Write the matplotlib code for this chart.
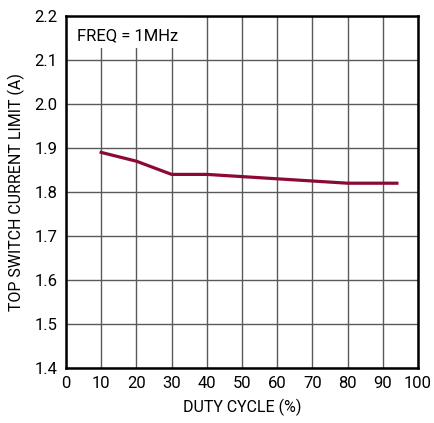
import matplotlib
matplotlib.use("Agg")
import matplotlib.pyplot as plt
from matplotlib.patches import Rectangle

plt.rcParams['font.family'] = ['Roboto', 'DejaVu Sans']

duty = [10, 20, 30, 40, 50, 60, 70, 80, 94]
limit = [1.89, 1.87, 1.84, 1.84, 1.835, 1.83, 1.825, 1.82, 1.82]

xticks = list(range(0, 101, 10))
yticks = [1.4, 1.5, 1.6, 1.7, 1.8, 1.9, 2.0, 2.1, 2.2]

fig = plt.figure(figsize=(4.35, 4.23), dpi=100)
ax = fig.add_axes([66/435, 1-368/423, (418-66)/435, (368-16)/423])

ax.set_xlim(0, 100)
ax.set_ylim(1.4, 2.2)
ax.set_xticks(xticks)
ax.set_yticks(yticks)
ax.set_yticklabels(["%.1f" % v for v in yticks])
ax.tick_params(length=0, labelsize=12, pad=6)
ax.grid(True, color="#5a5a5a", linewidth=1.0)
ax.set_axisbelow(True)
for s in ax.spines.values():
    s.set_linewidth(1.8)
    s.set_color("black")
    s.set_zorder(5)

ax.plot(duty, limit, color="#8B0A32", linewidth=2.3, zorder=3)

ax.set_xlabel("DUTY CYCLE (%)", fontsize=11.5, labelpad=5)
ax.set_ylabel("TOP SWITCH CURRENT LIMIT (A)", fontsize=11.5, labelpad=7)

# white label box over the grid in the upper-left corner
ax.add_patch(Rectangle((0, 0.91), 0.34, 0.09, transform=ax.transAxes,
                       facecolor="white", edgecolor="none", zorder=2))
ax.text(0.03, 0.945, "FREQ = 1MHz", fontsize=12, va="center", ha="left",
        transform=ax.transAxes, zorder=4)

fig.savefig("out.png", dpi=100)
